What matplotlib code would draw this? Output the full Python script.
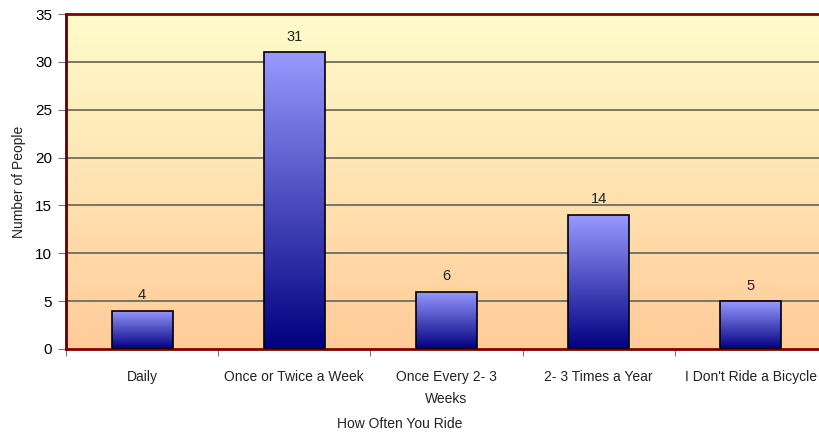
import matplotlib.pyplot as plt
import numpy as np
from matplotlib.colors import LinearSegmentedColormap

categories = ["Daily", "Once or Twice a Week", "Once Every 2- 3\nWeeks",
              "2- 3 Times a Year", "I Don't Ride a Bicycle"]
counts = [4, 31, 6, 14, 5]
y_ticks = [0, 5, 10, 15, 20, 25, 30, 35]

plt.rcParams["font.family"] = ["Liberation Sans", "DejaVu Sans"]

bg_cmap = LinearSegmentedColormap.from_list("bg", ["#FFCC99", "#FFFBCB"])
bar_cmap = LinearSegmentedColormap.from_list("bar", ["#000080", "#9999FF"])


def main():
    fig = plt.figure(figsize=(8.2, 4.34), dpi=100)
    # plot area runs past the right edge in the original
    ax = fig.add_axes([66 / 820, 85 / 434, 761 / 820, 335 / 434])

    n = len(categories)
    x = np.arange(n)

    grad = np.linspace(0, 1, 256).reshape(-1, 1)
    ax.imshow(grad, cmap=bg_cmap, origin="lower", aspect="auto",
              extent=[-0.5, n - 0.5, 0, 35], zorder=0)

    for t in y_ticks[1:-1]:
        ax.axhline(t, color="#6e6e5e", lw=1.3, zorder=1)

    bars = ax.bar(x, counts, width=0.4, facecolor="none", edgecolor="black",
                  linewidth=1.2, zorder=3)
    for b, v in zip(bars, counts):
        x0, w, h = b.get_x(), b.get_width(), b.get_height()
        im = ax.imshow(grad, cmap=bar_cmap, origin="lower", aspect="auto",
                       extent=[x0, x0 + w, 0, h], zorder=2)
        im.set_clip_path(b)
        ax.text(x0 + w / 2, h + 0.9, str(v), ha="center", va="bottom",
                fontsize=10.5, color="#222222")

    ax.set_xlim(-0.5, n - 0.5)
    ax.set_ylim(0, 35)

    for side in ["top", "right", "bottom"]:
        ax.spines[side].set_color("#800000")
        ax.spines[side].set_linewidth(2)
    ax.spines["left"].set_color("#5a0000")
    ax.spines["left"].set_linewidth(2)

    ax.set_yticks(y_ticks)
    ax.set_yticklabels([str(t) for t in y_ticks], fontsize=11)
    ax.set_xticks(np.arange(n + 1) - 0.5)
    ax.set_xticklabels([])
    ax.set_xticks(x, minor=True)
    ax.set_xticklabels(categories, minor=True, fontsize=10, color="#222222",
                       linespacing=1.75)
    ax.tick_params(axis="x", which="minor", length=0, pad=15)
    ax.tick_params(axis="x", which="major", length=5, color="#777777", direction="out")
    ax.tick_params(axis="y", length=6, color="#777777", direction="out", pad=4)

    ax.set_xlabel("How Often You Ride", fontsize=10, color="#222222")
    ax.xaxis.set_label_coords((400 - 66) / 761, -68 / 335)
    ax.set_ylabel("Number of People", fontsize=10, color="#222222")
    ax.yaxis.set_label_coords(-40 / 761, 0.5)

    fig.savefig("out.png", dpi=100)


if __name__ == "__main__":
    main()
